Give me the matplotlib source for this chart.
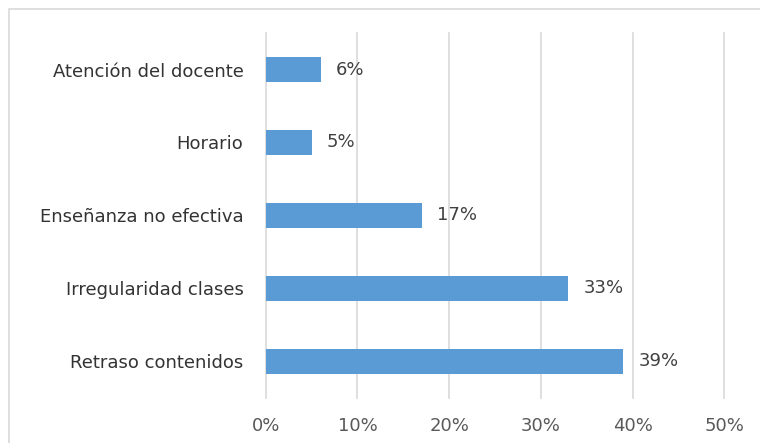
import matplotlib.pyplot as plt
from matplotlib.patches import Rectangle

# categories from bottom to top
categorias = ['Retraso contenidos', 'Irregularidad clases', 'Enseñanza no efectiva',
              'Horario', 'Atención del docente']
valores = [39, 33, 17, 5, 6]
ticks_x = [0, 10, 20, 30, 40, 50]

plt.rcParams['font.family'] = ['DejaVu Sans']

fig = plt.figure(figsize=(7.6, 4.43), dpi=100)
ax = fig.add_axes([0.3496, 0.1016, 0.6034, 0.8239])

# outer chart border (cut off on the right and bottom like the original)
fig.patches.append(Rectangle((9 / 760, -0.1), 1.2, 1 - 9 / 443 + 0.1,
                             transform=fig.transFigure, fill=False,
                             edgecolor='#d9d9d9', linewidth=1.2))

y = list(range(len(categorias)))
ax.barh(y, valores, height=0.34, color='#5b9bd5', zorder=3)

for yi, v in zip(y, valores):
    ax.annotate(f'{v}%', (v, yi), xytext=(11, 0), textcoords='offset points',
                va='center', ha='left', fontsize=13, color='#404040')

ax.set_xlim(0, 50)
ax.set_ylim(-0.5, 4.5)
ax.set_xticks(ticks_x)
ax.set_xticklabels([f'{t}%' for t in ticks_x])
ax.set_yticks(y)
ax.set_yticklabels(categorias)
ax.tick_params(axis='x', length=0, pad=14, labelsize=13, labelcolor='#595959')
ax.tick_params(axis='y', length=0, pad=16, labelsize=13, labelcolor='#333333')
# vertical gridlines, unclipped so the 0% and 50% ones are full width
for t in ticks_x:
    ax.axvline(t, color='#d9d9d9', linewidth=1.2, zorder=0, clip_on=False)
for s in ax.spines.values():
    s.set_visible(False)

fig.savefig('out.png', dpi=100)
